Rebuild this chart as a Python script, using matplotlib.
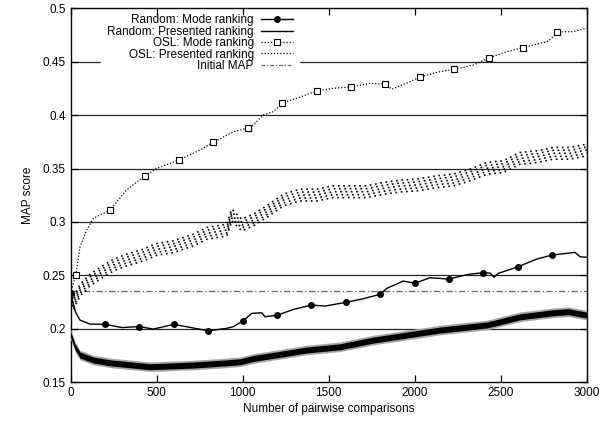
import numpy as np
import matplotlib
matplotlib.use('Agg')
import matplotlib.pyplot as plt
from matplotlib.lines import Line2D

plt.rcParams['font.family'] = ['Liberation Sans', 'DejaVu Sans']
plt.rcParams['font.size'] = 8.5

## Values
rand_mode_x = [0, 30, 55, 113, 200, 300, 400, 481, 600, 675, 800, 908, 945,
               1000, 1053, 1111, 1130, 1200, 1295, 1400, 1479, 1600, 1700,
               1800, 1838, 1934, 2000, 2089, 2200, 2312, 2400, 2440, 2461,
               2486, 2600, 2710, 2800, 2932, 2961, 3000]
rand_mode_y = [0.233, 0.215, 0.208, 0.2043, 0.204, 0.201, 0.202, 0.1996,
               0.204, 0.2018, 0.198, 0.2003, 0.2018, 0.207, 0.2143, 0.2149,
               0.2112, 0.2125, 0.218, 0.2221, 0.2212, 0.2246, 0.228, 0.2322,
               0.2378, 0.2446, 0.2425, 0.2477, 0.2465, 0.2509, 0.2524, 0.252,
               0.2481, 0.2518, 0.258, 0.2652, 0.269, 0.2715, 0.2674, 0.2668]

rand_pres_x = [0, 26, 55, 133, 230, 462, 714, 908, 985, 1062, 1179, 1373,
               1566, 1760, 1954, 2147, 2419, 2612, 2806, 2893, 3000]
rand_pres_y = [0.195, 0.183, 0.1753, 0.1706, 0.168, 0.1643, 0.1659, 0.168,
               0.169, 0.172, 0.175, 0.18, 0.183, 0.1893, 0.194, 0.1987,
               0.2034, 0.2111, 0.2149, 0.2159, 0.2127]

osl_mode_x = [0, 30, 55, 94, 133, 230, 326, 430, 501, 630, 753, 830, 946,
              1030, 1062, 1120, 1179, 1230, 1334, 1430, 1527, 1630, 1741,
              1830, 1867, 1973, 2030, 2147, 2230, 2341, 2430, 2535, 2630,
              2768, 2806, 2830, 2922, 3000]
osl_mode_y = [0.233, 0.2502, 0.2768, 0.2924, 0.3034, 0.3112, 0.33, 0.343,
              0.3502, 0.358, 0.3674, 0.3746, 0.3845, 0.388, 0.3908, 0.4002,
              0.4033, 0.4114, 0.417, 0.4227, 0.4252, 0.4264, 0.4299, 0.429,
              0.4243, 0.4314, 0.4358, 0.4408, 0.443, 0.447, 0.4536, 0.4595,
              0.4633, 0.4689, 0.4736, 0.478, 0.4783, 0.4814]

osl_pres_x = [0, 16, 55, 113, 171, 249, 326, 423, 501, 598, 714, 792, 908,
              937, 995, 1062, 1140, 1237, 1334, 1431, 1527, 1624, 1722, 1818,
              1915, 2012, 2128, 2225, 2322, 2419, 2515, 2612, 2710, 2806,
              2903, 3000]
osl_pres_y = [0.233, 0.2237, 0.236, 0.2455, 0.2518, 0.2596, 0.2643, 0.269,
              0.2743, 0.2768, 0.283, 0.2893, 0.2924, 0.3065, 0.2971, 0.3018,
              0.3096, 0.3205, 0.3252, 0.3252, 0.3283, 0.3283, 0.3283, 0.3315,
              0.3336, 0.3346, 0.3377, 0.3393, 0.344, 0.3502, 0.3518, 0.3596,
              0.3611, 0.3643, 0.3643, 0.3674]

initial_map = 0.235
rand_marker_x = list(range(0, 3000, 200))
osl_marker_x = list(range(30, 3000, 200))

## Figure
fig = plt.figure(figsize=(6.03, 4.24), dpi=100)
ax = fig.add_axes([0.117, 0.099, 0.856, 0.881])

for yv in [0.2, 0.25, 0.3, 0.35, 0.4, 0.45]:
    ax.axhline(yv, color='0.15', lw=0.9, zorder=1)

ax.axhline(initial_map, color='0.4', lw=0.9, ls=(0, (5, 2, 1, 2)), zorder=2)

# Random: presented ranking (noisy band)
rx = np.array(rand_pres_x); ry = np.array(rand_pres_y)
ax.fill_between(rx, ry - 0.0045, ry + 0.0045, color='0.65', lw=0, zorder=3)
ax.fill_between(rx, ry - 0.0028, ry + 0.0028, color='black', lw=0, zorder=3)

# OSL: presented ranking (speckled dotted band)
ox = np.array(osl_pres_x); oy = np.array(osl_pres_y)
for k, off in enumerate([-0.0055, -0.0028, 0, 0.0028, 0.0055]):
    ax.plot(ox, oy + off, color='black', lw=1.2, ls=(k * 0.7, (1, 2.2)),
            zorder=3)

rand_idx = [i for i, x in enumerate(rand_mode_x) if x in rand_marker_x]
ax.plot(rand_mode_x, rand_mode_y, color='black', lw=1.0, marker='o',
        ms=4, markevery=rand_idx, zorder=4)
osl_idx = [i for i, x in enumerate(osl_mode_x) if x in osl_marker_x]
ax.plot(osl_mode_x, osl_mode_y, color='black', lw=0.9, ls=(0, (1, 1.5)),
        marker='s', ms=5, mfc='white', mew=0.8, markevery=osl_idx, zorder=4)

ax.set_xlim(0, 3000)
ax.set_ylim(0.15, 0.5)
ax.set_xticks([0, 500, 1000, 1500, 2000, 2500, 3000])
ax.set_yticks([0.15, 0.2, 0.25, 0.3, 0.35, 0.4, 0.45, 0.5])
ax.set_yticklabels(['0.15', '0.2', '0.25', '0.3', '0.35', '0.4', '0.45', '0.5'])
ax.tick_params(direction='in', length=5, width=0.9, top=True, right=True,
               labelsize=8.5)
for s in ax.spines.values():
    s.set_linewidth(1.0)
ax.set_xlabel('Number of pairwise comparisons', fontsize=8.5, labelpad=3)
ax.set_ylabel('MAP score', fontsize=8.5, labelpad=6)

handles = [
    Line2D([], [], color='black', lw=1.0, marker='o', ms=4),
    Line2D([], [], color='black', lw=1.0),
    Line2D([], [], color='black', lw=0.9, ls=(0, (1, 1.5)), marker='s',
           ms=5, mfc='white', mew=0.8),
    Line2D([], [], color='black', lw=0.9, ls=(0, (1, 1.5))),
    Line2D([], [], color='0.4', lw=0.9, ls=(0, (3, 1.5, 1, 1.5))),
]
labels = ['Random: Mode ranking', 'Random: Presented ranking',
          'OSL: Mode ranking', 'OSL: Presented ranking', 'Initial MAP']
leg = ax.legend(handles, labels, loc='upper right',
                bbox_to_anchor=(0.4427, 1.0), markerfirst=False,
                frameon=True, fancybox=False, framealpha=1, edgecolor='white',
                handlelength=2.76, handletextpad=0.57, labelspacing=-0.05,
                borderpad=0.5, borderaxespad=0.0, fontsize=8.5)
leg.set_zorder(1.2)
for t in leg.get_texts():
    t.set_ha('right')
leg._legend_box.align = 'right'

fig.savefig('out.png', dpi=100)
